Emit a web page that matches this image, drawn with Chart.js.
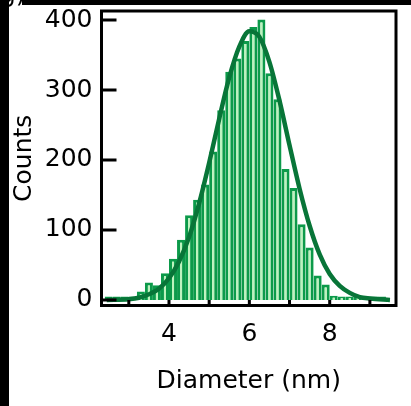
<!DOCTYPE html>
<html>
<head>
<meta charset="utf-8">
<script src="https://cdn.jsdelivr.net/npm/chart.js@4"></script>
<style>
  html, body { margin: 0; padding: 0; background: #fff; }
  #wrap { position: relative; width: 411px; height: 406px; overflow: hidden; background: #fff; }
  canvas { position: absolute; left: 0; top: 0; }
  .strip { position: absolute; background: #000; }
  #panel { position: absolute; left: 0px; top: -21px; font: 25px "DejaVu Sans"; line-height: 30px; color: #000; }
</style>
</head>
<body>
<div id="wrap">
  <canvas id="c" width="411" height="406"></canvas>
  <div id="panel">g)</div>
  <div class="strip" style="left:0;top:0;width:9px;height:406px;"></div>
  <div class="strip" style="left:22px;top:0;width:389px;height:5px;"></div>
</div>
<script>
// ---- data ----
const binCenters = [2.5, 2.7, 2.9, 3.1, 3.3, 3.5, 3.7, 3.9, 4.1, 4.3, 4.5, 4.7, 4.9, 5.1, 5.3, 5.5, 5.7, 5.9,
                    6.1, 6.3, 6.5, 6.7, 6.9, 7.1, 7.3, 7.5, 7.7, 7.9, 8.1, 8.3, 8.5, 8.7, 8.9, 9.1, 9.3];
const counts = [5, 5, 5, 5, 12, 25, 21, 38, 59, 86, 121, 143, 165, 212, 271, 326, 345, 370,
                390, 401, 324, 287, 187, 160, 108, 75, 35, 22, 6, 5, 5, 5, 5, 5, 5];
const fitX = [2.45, 3.0, 3.25, 3.5, 3.75, 4.0, 4.25, 4.5, 4.75, 5.0, 5.25, 5.5, 5.75, 6.0, 6.25,
              6.5, 6.75, 7.0, 7.25, 7.5, 7.75, 8.0, 8.25, 8.5, 8.75, 9.0, 9.5];
const fitY = [0, 1, 3, 8, 16, 31, 55, 90, 138, 196, 259, 318, 362, 384, 376,
              340, 285, 221, 159, 106, 65, 37, 20, 10, 4, 2, 0];
const yTicks = [0, 100, 200, 300, 400];
const xTickMarks = [3, 4, 5, 6, 7, 8, 9];
const xTickLabels = [4, 6, 8];

const FONT = { family: 'DejaVu Sans', size: 25 };

const framePlugin = {
  id: 'frame',
  afterDatasetsDraw(chart) {
    const { ctx, chartArea: a, scales } = chart;
    ctx.save();
    ctx.strokeStyle = '#000';
    ctx.lineWidth = 3;
    ctx.lineCap = 'butt';
    ctx.strokeRect(a.left, a.top, a.right - a.left, a.bottom - a.top);
    ctx.beginPath();
    yTicks.forEach(v => {
      const y = scales.y.getPixelForValue(v);
      ctx.moveTo(a.left, y);
      ctx.lineTo(a.left + 15, y);
    });
    xTickMarks.forEach(v => {
      const x = scales.x.getPixelForValue(v);
      ctx.moveTo(x, a.bottom);
      ctx.lineTo(x, a.bottom - 5.5);
    });
    ctx.stroke();
    ctx.restore();
  }
};

new Chart(document.getElementById('c'), {
  type: 'bar',
  data: {
    datasets: [
      {
        type: 'line',
        order: 0,
        data: fitX.map((x, i) => ({ x, y: fitY[i] })),
        borderColor: '#087538',
        borderWidth: 4.5,
        pointRadius: 0,
        cubicInterpolationMode: 'monotone',
        fill: false
      },
      {
        type: 'bar',
        order: 1,
        data: binCenters.map((x, i) => ({ x, y: counts[i] })),
        backgroundColor: '#bdf3bd',
        borderColor: '#0c9a4a',
        borderWidth: 3,
        borderSkipped: 'bottom',
        inflateAmount: 0,
        barPercentage: 1.0,
        categoryPercentage: 1.0
      }
    ]
  },
  options: {
    responsive: false,
    devicePixelRatio: 1,
    animation: false,
    layout: { padding: { left: 0, right: 15, top: 11, bottom: 0 } },
    plugins: { legend: { display: false }, tooltip: { enabled: false } },
    scales: {
      x: {
        type: 'linear',
        min: 2.32,
        max: 9.65,
        offset: false,
        grid: { display: false, drawTicks: false },
        border: { display: false },
        afterBuildTicks: s => { s.ticks = xTickMarks.map(v => ({ value: v })); },
        afterFit: s => { s.height = 100.5; s.paddingLeft = 0; s.paddingRight = 0; },
        ticks: {
          autoSkip: false, maxRotation: 0, color: '#000', font: FONT, padding: 14,
          callback: v => xTickLabels.includes(v) ? String(v) : ''
        },
        title: { display: true, text: 'Diameter (nm)', color: '#000', font: FONT, padding: { top: 0, bottom: 10 } }
      },
      y: {
        min: -8,
        max: 413,
        grid: { display: false, drawTicks: false },
        border: { display: false },
        afterBuildTicks: s => { s.ticks = yTicks.map(v => ({ value: v })); },
        afterFit: s => { s.width = 101.5; s.paddingTop = 0; s.paddingBottom = 0; },
        ticks: { color: '#000', font: FONT, padding: 9 },
        title: { display: true, text: 'Counts', color: '#000', font: FONT, padding: { top: 9, bottom: 0 } }
      }
    }
  },
  plugins: [framePlugin]
});
</script>
</body>
</html>
